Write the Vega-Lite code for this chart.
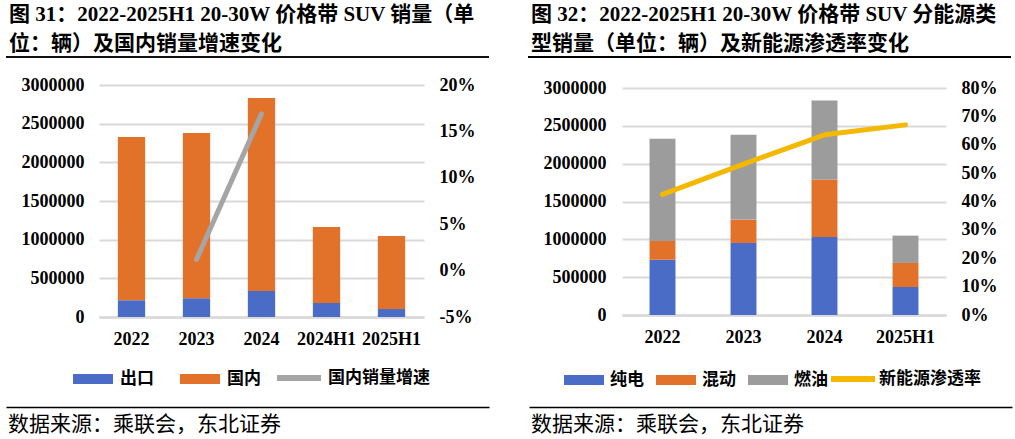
{
  "$schema": "https://vega.github.io/schema/vega-lite/v6.json",
  "background": "white",
  "padding": {"left": 5, "top": 4, "right": 0, "bottom": 0},
  "config": {
    "view": {"stroke": null},
    "axis": {
      "labelFont": "Liberation Serif",
      "labelFontWeight": "bold",
      "labelFontSize": 18,
      "labelColor": "#000",
      "ticks": false,
      "tickSize": 0,
      "domain": false,
      "grid": false
    },
    "legend": {
      "labelFont": "Noto Sans CJK SC",
      "labelFontWeight": "bold",
      "labelFontSize": 17,
      "labelColor": "#000",
      "orient": "none",
      "direction": "horizontal",
      "title": null
    }
  },
  "datasets": {
    "sales": [
      {"年份": "2022", "类型": "出口", "销量": 216000},
      {"年份": "2022", "类型": "国内", "销量": 2112000},
      {"年份": "2023", "类型": "出口", "销量": 242000},
      {"年份": "2023", "类型": "国内", "销量": 2138000},
      {"年份": "2024", "类型": "出口", "销量": 336000},
      {"年份": "2024", "类型": "国内", "销量": 2497000},
      {"年份": "2024H1", "类型": "出口", "销量": 181000},
      {"年份": "2024H1", "类型": "国内", "销量": 983000},
      {"年份": "2025H1", "类型": "出口", "销量": 103000},
      {"年份": "2025H1", "类型": "国内", "销量": 945000}
    ],
    "growth": [
      {"年份": "2023", "增速": 0.012},
      {"年份": "2024", "增速": 0.169}
    ],
    "energy": [
      {"年份": "2022", "类型": "纯电", "销量": 731000},
      {"年份": "2022", "类型": "混动", "销量": 248000},
      {"年份": "2022", "类型": "燃油", "销量": 1349000},
      {"年份": "2023", "类型": "纯电", "销量": 952000},
      {"年份": "2023", "类型": "混动", "销量": 309000},
      {"年份": "2023", "类型": "燃油", "销量": 1120000},
      {"年份": "2024", "类型": "纯电", "销量": 1032000},
      {"年份": "2024", "类型": "混动", "销量": 758000},
      {"年份": "2024", "类型": "燃油", "销量": 1045000},
      {"年份": "2025H1", "类型": "纯电", "销量": 370000},
      {"年份": "2025H1", "类型": "混动", "销量": 318000},
      {"年份": "2025H1", "类型": "燃油", "销量": 361000}
    ],
    "share": [
      {"年份": "2022", "渗透率": 0.425},
      {"年份": "2023", "渗透率": 0.532},
      {"年份": "2024", "渗透率": 0.635},
      {"年份": "2025H1", "渗透率": 0.67}
    ]
  },
  "hconcat": [
    {
      "spacing": 4,
      "vconcat": [
        {
          "width": 390,
          "height": 4,
          "data": {"name": "growth"},
          "mark": {"type": "rule", "color": "#000", "strokeWidth": 1.5},
          "encoding": {
            "x": {"datum": 0, "type": "quantitative", "scale": {"domain": [0, 1], "range": [-93, 390]}, "axis": null},
            "x2": {"datum": 1}
          },
          "title": {
            "text": ["图 31：2022-2025H1 20-30W 价格带 SUV 销量（单", "位：辆）及国内销量增速变化"],
            "anchor": "start",
            "frame": "group",
            "font": "Liberation Serif, Noto Sans CJK SC",
            "fontSize": 21,
            "fontWeight": "bold",
            "color": "#000",
            "lineHeight": 29,
            "offset": 1,
            "dx": -90
          }
        },
        {
          "width": 390,
          "height": 9,
          "data": {"name": "sales"},
          "mark": {"type": "point", "opacity": 0, "size": 0},
          "encoding": {
            "x": {"field": "销量", "type": "quantitative", "scale": {"range": [-93, 390]}, "axis": null}
          }
        },
        {
          "width": 325,
          "height": 232,
          "layer": [
            {
              "data": {"name": "sales"},
              "mark": {"type": "bar"},
              "encoding": {
                "x": {
                  "field": "年份", "type": "nominal",
                  "scale": {"domain": ["2022", "2023", "2024", "2024H1", "2025H1"], "paddingInner": 0.58, "paddingOuter": 0.29},
                  "axis": {"title": null, "labelAngle": 0, "labelPadding": 13, "domain": true, "domainColor": "#D9D9D9", "domainWidth": 2.5}
                },
                "y": {
                  "field": "销量", "type": "quantitative", "stack": "zero",
                  "scale": {"domain": [0, 3000000]},
                  "axis": {"title": null, "format": "d", "values": [0, 500000, 1000000, 1500000, 2000000, 2500000, 3000000], "grid": true, "gridColor": "#D9D9D9", "gridWidth": 2, "labelPadding": 15, "minExtent": 93}
                },
                "order": {"field": "类型", "sort": "ascending"},
                "color": {
                  "field": "类型", "type": "nominal",
                  "scale": {"domain": ["出口", "国内"], "range": ["#4A6BC6", "#E2722A"]},
                  "legend": {"legendX": -27, "legendY": 273, "symbolType": "M-1,-0.25H1V0.25H-1Z", "symbolSize": 1600, "labelOffset": 6, "columnPadding": 25}
                }
              }
            },
            {
              "data": {"name": "growth"},
              "mark": {"type": "line", "strokeWidth": 5, "strokeCap": "round"},
              "encoding": {
                "x": {"field": "年份", "type": "nominal"},
                "y": {
                  "field": "增速", "type": "quantitative",
                  "scale": {"domain": [-0.05, 0.2]},
                  "axis": {"title": null, "orient": "right", "values": [-0.05, 0, 0.05, 0.1, 0.15, 0.2], "format": ".0%", "labelExpr": "replace(datum.label, '−', '-')", "labelPadding": 15}
                },
                "color": {
                  "datum": "国内销量增速", "type": "nominal",
                  "scale": {"range": ["#A5A5A5"]},
                  "legend": {"legendX": 175, "legendY": 268, "symbolType": "stroke", "symbolSize": 1936, "symbolStrokeWidth": 6, "labelOffset": 4}
                }
              }
            }
          ],
          "resolve": {"scale": {"y": "independent", "color": "independent"}}
        },
        {
          "width": 390,
          "height": 13,
          "data": {"name": "sales"},
          "mark": {"type": "point", "opacity": 0, "size": 0},
          "encoding": {
            "x": {"field": "销量", "type": "quantitative", "scale": {"range": [-93, 390]}, "axis": {"domain": true, "domainColor": "#000", "domainWidth": 1.5, "labels": false, "title": null}}
          },
          "title": {
            "text": "数据来源：乘联会，东北证券",
            "orient": "bottom",
            "anchor": "start",
            "frame": "group",
            "font": "Noto Sans CJK SC",
            "fontSize": 21,
            "fontWeight": "normal",
            "color": "#000",
            "offset": 7,
            "dx": -91
          }
        }
      ]
    },
    {
      "spacing": 4,
      "vconcat": [
        {
          "width": 389,
          "height": 4,
          "data": {"name": "share"},
          "mark": {"type": "rule", "color": "#000", "strokeWidth": 1.5},
          "encoding": {
            "x": {"datum": 0, "type": "quantitative", "scale": {"domain": [0, 1], "range": [-94, 389]}, "axis": null},
            "x2": {"datum": 1}
          },
          "title": {
            "text": ["图 32：2022-2025H1 20-30W 价格带 SUV 分能源类", "型销量（单位：辆）及新能源渗透率变化"],
            "anchor": "start",
            "frame": "group",
            "font": "Liberation Serif, Noto Sans CJK SC",
            "fontSize": 21,
            "fontWeight": "bold",
            "color": "#000",
            "lineHeight": 29,
            "offset": 1,
            "dx": -91
          }
        },
        {
          "width": 389,
          "height": 12,
          "data": {"name": "energy"},
          "mark": {"type": "point", "opacity": 0, "size": 0},
          "encoding": {
            "x": {"field": "销量", "type": "quantitative", "scale": {"range": [-94, 389]}, "axis": null}
          }
        },
        {
          "width": 324,
          "height": 227,
          "layer": [
            {
              "data": {"name": "energy"},
              "transform": [
                {"calculate": "indexof(['纯电', '混动', '燃油'], datum['类型'])", "as": "堆叠顺序"}
              ],
              "mark": {"type": "bar"},
              "encoding": {
                "x": {
                  "field": "年份", "type": "nominal",
                  "scale": {"domain": ["2022", "2023", "2024", "2025H1"], "paddingInner": 0.68, "paddingOuter": 0.34},
                  "axis": {"title": null, "labelAngle": 0, "labelPadding": 13, "domain": true, "domainColor": "#D9D9D9", "domainWidth": 2.5}
                },
                "y": {
                  "field": "销量", "type": "quantitative", "stack": "zero",
                  "scale": {"domain": [0, 3000000]},
                  "axis": {"title": null, "format": "d", "values": [0, 500000, 1000000, 1500000, 2000000, 2500000, 3000000], "grid": true, "gridColor": "#D9D9D9", "gridWidth": 2, "labelPadding": 16, "minExtent": 94}
                },
                "order": {"field": "堆叠顺序", "sort": "ascending"},
                "color": {
                  "field": "类型", "type": "nominal",
                  "scale": {"domain": ["纯电", "混动", "燃油"], "range": ["#4A6BC6", "#E2722A", "#9C9C9C"]},
                  "legend": {"legendX": -59, "legendY": 271, "symbolType": "M-1,-0.25H1V0.25H-1Z", "symbolSize": 1600, "labelOffset": 5, "columnPadding": 11}
                }
              }
            },
            {
              "data": {"name": "share"},
              "mark": {"type": "line", "strokeWidth": 5, "strokeCap": "round", "strokeJoin": "round"},
              "encoding": {
                "x": {"field": "年份", "type": "nominal"},
                "y": {
                  "field": "渗透率", "type": "quantitative",
                  "scale": {"domain": [0, 0.8]},
                  "axis": {"title": null, "orient": "right", "values": [0, 0.1, 0.2, 0.3, 0.4, 0.5, 0.6, 0.7, 0.8], "format": ".0%", "labelPadding": 15}
                },
                "color": {
                  "datum": "新能源渗透率", "type": "nominal",
                  "scale": {"range": ["#F5B800"]},
                  "legend": {"legendX": 206, "legendY": 266, "symbolType": "stroke", "symbolSize": 1936, "symbolStrokeWidth": 6, "labelOffset": 1}
                }
              }
            }
          ],
          "resolve": {"scale": {"y": "independent", "color": "independent"}}
        },
        {
          "width": 390,
          "height": 12,
          "data": {"name": "energy"},
          "mark": {"type": "point", "opacity": 0, "size": 0},
          "encoding": {
            "x": {"field": "销量", "type": "quantitative", "scale": {"range": [-93, 390]}, "axis": {"domain": true, "domainColor": "#000", "domainWidth": 1.5, "labels": false, "title": null}}
          },
          "title": {
            "text": "数据来源：乘联会，东北证券",
            "orient": "bottom",
            "anchor": "start",
            "frame": "group",
            "font": "Noto Sans CJK SC",
            "fontSize": 21,
            "fontWeight": "normal",
            "color": "#000",
            "offset": 7,
            "dx": -91
          }
        }
      ]
    }
  ],
  "spacing": -55
}
